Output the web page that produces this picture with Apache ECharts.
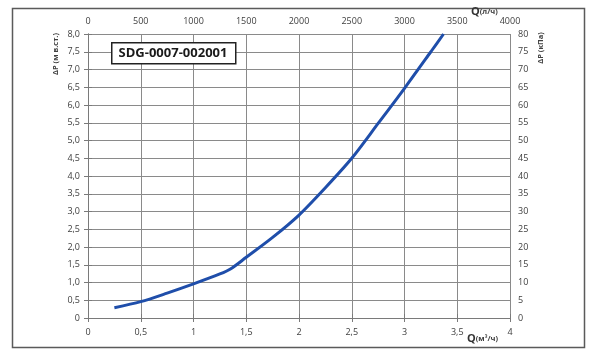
<!DOCTYPE html>
<html><head><meta charset="utf-8">
<script src="https://cdn.jsdelivr.net/npm/echarts@6/dist/echarts.min.js"></script>
<style>html,body{margin:0;padding:0;background:#fff}#c{width:600px;height:356px}</style>
</head><body><div id="c"></div>
<script>
const flowM3h = [0.25, 0.5, 0.75, 1.0, 1.25, 1.35, 1.5, 1.75, 2.0, 2.25, 2.5, 2.75, 3.0, 3.25, 3.37];
const dropMwc = [0.29, 0.46, 0.70, 0.96, 1.24, 1.38, 1.71, 2.27, 2.9, 3.67, 4.5, 5.48, 6.47, 7.5, 8.0];
const titleText = 'SDG-0007-002001';
const leftName = 'ΔP (м в.ст.)';
const rightName = 'ΔP (кПа)';
const topQ = 'Q', topUnit = '(л/ч)';
const bottomQ = 'Q', bottomUnit = '(м³/ч)';

const FONT = 'Open Sans';
const lbl = {color:'#404040', fontSize:9, fontFamily:FONT};
const gridLine = {show:true, lineStyle:{color:'#8a8a8a', width:1}};
const axLine = {show:true, lineStyle:{color:'#7a7a7a', width:1}};
const ticks = {show:true, length:4, lineStyle:{color:'#7a7a7a'}};
const comma = v => String(v).replace('.', ',');
const qRich = {q:{font:'bold 11px "'+FONT+'"', fill:'#333'}, u:{font:'bold 7.5px "'+FONT+'"', fill:'#404040'}};

const chart = echarts.init(document.getElementById('c'));
chart.setOption({
  animation:false,
  grid:{left:88, right:90, top:34, bottom:38},
  xAxis:[
    {type:'value', position:'bottom', min:0, max:4, interval:0.5,
     axisLine:axLine, axisTick:ticks, splitLine:gridLine,
     axisLabel:Object.assign({margin:10, formatter:v=>comma(v)}, lbl)},
    {type:'value', position:'top', min:0, max:4000, interval:500,
     axisLine:{show:false}, axisTick:ticks, splitLine:{show:false},
     axisLabel:Object.assign({margin:8, formatter:v=>String(v)}, lbl)}
  ],
  yAxis:[
    {type:'value', position:'left', min:0, max:8, interval:0.5,
     axisLine:axLine, axisTick:ticks, splitLine:gridLine,
     axisLabel:Object.assign({margin:8, formatter:v=>v===0?'0':v.toFixed(1).replace('.',',')}, lbl)},
    {type:'value', position:'right', min:0, max:80, interval:5,
     axisLine:axLine, axisTick:ticks, splitLine:{show:false},
     axisLabel:Object.assign({margin:8, formatter:v=>String(v)}, lbl)}
  ],
  series:[{
    type:'line', xAxisIndex:0, yAxisIndex:0, smooth:0.3, symbol:'none',
    lineStyle:{color:'#1f4eaa', width:3},
    data:flowM3h.map((q,i)=>[q, dropMwc[i]])
  }],
  graphic:[
    {type:'rect', left:10, top:6, shape:{width:572, height:339},
     style:{fill:'none', stroke:'#5a5a5a', lineWidth:1.5}, z:-1},
    {type:'rect', left:111, top:42, shape:{width:124, height:21},
     style:{fill:'#fff', stroke:'#222', lineWidth:1.5}, z:100},
    {type:'text', x:173, y:53, z:101,
     style:{text:titleText, font:'bold 13px "'+FONT+'"', fill:'#1a1a1a', align:'center', verticalAlign:'middle'}},
    {type:'text', x:56, y:54, rotation:Math.PI/2, z:101,
     style:{text:leftName, font:'bold 7.5px "'+FONT+'"', fill:'#404040', align:'center', verticalAlign:'middle'}},
    {type:'text', x:541, y:48, rotation:Math.PI/2, z:101,
     style:{text:rightName, font:'bold 7.5px "'+FONT+'"', fill:'#404040', align:'center', verticalAlign:'middle'}},
    {type:'text', x:471, y:12, z:101,
     style:{text:'{q|'+topQ+'}{u|'+topUnit+'}', rich:qRich, align:'left', verticalAlign:'middle'}},
    {type:'text', x:467, y:339, z:101,
     style:{text:'{q|'+bottomQ+'}{u|'+bottomUnit+'}', rich:qRich, align:'left', verticalAlign:'middle'}}
  ]
});
</script></body></html>
